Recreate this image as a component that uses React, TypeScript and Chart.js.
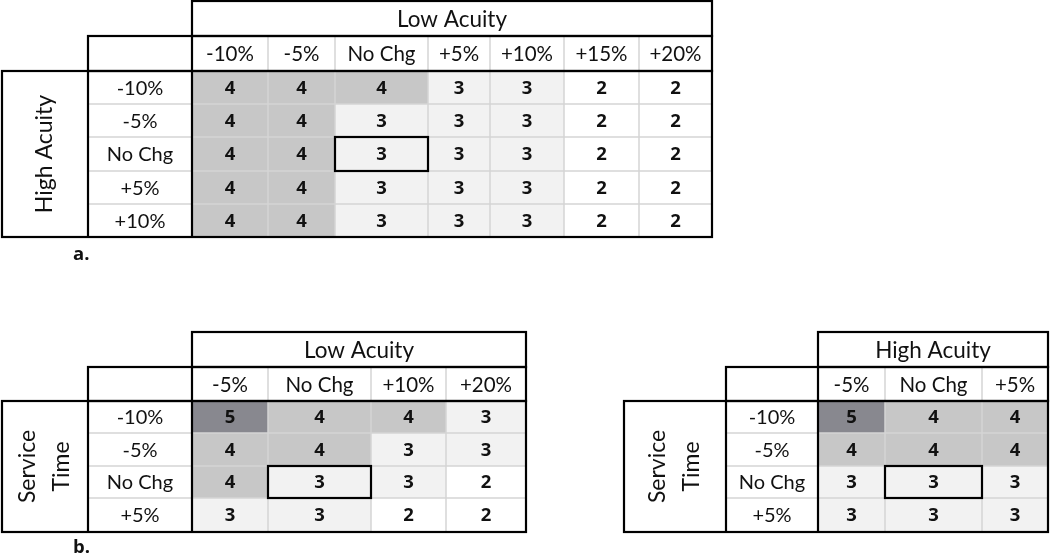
import React, { useEffect, useRef } from "react";
import { Chart, registerables } from "chart.js";

Chart.register(...registerables);

// ---------- data ----------
const lowAcuityColsA = ["-10%", "-5%", "No Chg", "+5%", "+10%", "+15%", "+20%"];
const highAcuityRowsA = ["-10%", "-5%", "No Chg", "+5%", "+10%"];
const valuesA = [
  [4, 4, 4, 3, 3, 2, 2],
  [4, 4, 3, 3, 3, 2, 2],
  [4, 4, 3, 3, 3, 2, 2],
  [4, 4, 3, 3, 3, 2, 2],
  [4, 4, 3, 3, 3, 2, 2],
];

const lowAcuityColsB = ["-5%", "No Chg", "+10%", "+20%"];
const serviceRowsB = ["-10%", "-5%", "No Chg", "+5%"];
const valuesBLow = [
  [5, 4, 4, 3],
  [4, 4, 3, 3],
  [4, 3, 3, 2],
  [3, 3, 2, 2],
];

const highAcuityColsB = ["-5%", "No Chg", "+5%"];
const valuesBHigh = [
  [5, 4, 4],
  [4, 4, 4],
  [3, 3, 3],
  [3, 3, 3],
];

// ---------- layout (pixel-unit scale space) ----------
const W = 1050;
const H = 557;

const geomA = {
  groupLeft: 2,
  labelLeft: 88,
  colEdges: [192, 268, 335, 428, 490, 564, 639, 712],
  top: 1,
  headBottom: 36,
  rowEdges: [71, 104, 137, 171, 204, 237],
};
const geomBL = {
  groupLeft: 2,
  labelLeft: 88,
  colEdges: [192, 268, 371, 446, 526],
  top: 332,
  headBottom: 367,
  rowEdges: [401, 433, 466, 498, 532],
};
const geomBR = {
  groupLeft: 624,
  labelLeft: 726,
  colEdges: [818, 885, 982, 1048],
  top: 332,
  headBottom: 367,
  rowEdges: [401, 433, 466, 498, 532],
};

const tables = [
  {
    title: "Low Acuity",
    side: ["High Acuity"],
    cols: lowAcuityColsA,
    rows: highAcuityRowsA,
    values: valuesA,
    base: [2, 2],
    geom: geomA,
  },
  {
    title: "Low Acuity",
    side: ["Service", "Time"],
    cols: lowAcuityColsB,
    rows: serviceRowsB,
    values: valuesBLow,
    base: [2, 1],
    geom: geomBL,
  },
  {
    title: "High Acuity",
    side: ["Service", "Time"],
    cols: highAcuityColsB,
    rows: serviceRowsB,
    values: valuesBHigh,
    base: [2, 1],
    geom: geomBR,
  },
];

const panelLabels = [
  { text: "a.", x: 73, y: 255 },
  { text: "b.", x: 73, y: 548 },
];

const shade: Record<number, string> = {
  2: "#ffffff",
  3: "#f2f2f2",
  4: "#c7c7c7",
  5: "#88888f",
};

const FONT = "Lato, 'Open Sans', sans-serif";
const BOLD = "'Open Sans', Lato, sans-serif";

const tablePlugin = {
  id: "tablePlugin",
  afterDraw(chart: any) {
    const ctx: CanvasRenderingContext2D = chart.ctx;
    const xs = chart.scales.x;
    const ys = chart.scales.y;
    const X = (v: number) => xs.getPixelForValue(v);
    const Y = (v: number) => ys.getPixelForValue(v);

    const line = (x1: number, y1: number, x2: number, y2: number) => {
      ctx.beginPath();
      ctx.moveTo(X(x1), Y(y1));
      ctx.lineTo(X(x2), Y(y2));
      ctx.stroke();
    };
    const rect = (x1: number, y1: number, x2: number, y2: number) => {
      ctx.strokeRect(X(x1), Y(y1), X(x2) - X(x1), Y(y2) - Y(y1));
    };

    ctx.save();
    ctx.fillStyle = "#ffffff";
    ctx.fillRect(0, 0, chart.width, chart.height);

    for (const t of tables) {
      const g = t.geom;
      const ce = g.colEdges;
      const re = g.rowEdges;
      const right = ce[ce.length - 1];
      const bottom = re[re.length - 1];

      // cell fills
      t.values.forEach((row, r) => {
        row.forEach((v, c) => {
          ctx.fillStyle = shade[v];
          ctx.fillRect(X(ce[c]), Y(re[r]), X(ce[c + 1]) - X(ce[c]), Y(re[r + 1]) - Y(re[r]));
        });
      });

      // light gridlines
      ctx.strokeStyle = "#d4d4d4";
      ctx.lineWidth = 1.5;
      for (let i = 1; i < ce.length - 1; i++) line(ce[i], g.headBottom, ce[i], bottom);
      for (let i = 1; i < re.length - 1; i++) line(g.labelLeft, re[i], right, re[i]);

      // heavy borders
      ctx.strokeStyle = "#000000";
      ctx.lineWidth = 2.2;
      rect(ce[0], g.top, right, g.headBottom);
      rect(g.labelLeft, g.headBottom, right, re[0]);
      rect(g.groupLeft, re[0], right, bottom);
      line(g.labelLeft, re[0], g.labelLeft, bottom);
      line(ce[0], g.headBottom, ce[0], bottom);
      const [br, bc] = t.base;
      rect(ce[bc], re[br], ce[bc + 1], re[br + 1]);

      // texts
      ctx.fillStyle = "#111111";
      ctx.textAlign = "center";
      ctx.textBaseline = "middle";
      ctx.font = `22.5px ${FONT}`;
      ctx.fillText(t.title, X((ce[0] + right) / 2), Y((g.top + g.headBottom) / 2) + 1);

      ctx.font = `20.5px ${FONT}`;
      t.cols.forEach((c, i) => {
        ctx.fillText(c, X((ce[i] + ce[i + 1]) / 2), Y((g.headBottom + re[0]) / 2) + 1);
      });
      ctx.font = `20px ${FONT}`;
      t.rows.forEach((rl, i) => {
        ctx.fillText(rl, X((g.labelLeft + ce[0]) / 2), Y((re[i] + re[i + 1]) / 2) + 1);
      });

      ctx.font = `bold 18.5px ${BOLD}`;
      t.values.forEach((row, r) => {
        row.forEach((v, c) => {
          ctx.fillText(String(v), X((ce[c] + ce[c + 1]) / 2), Y((re[r] + re[r + 1]) / 2) + 1);
        });
      });

      // rotated side title
      ctx.save();
      ctx.translate(X((g.groupLeft + g.labelLeft) / 2), Y((re[0] + bottom) / 2));
      ctx.rotate(-Math.PI / 2);
      ctx.font = `23px ${FONT}`;
      const n = t.side.length;
      const lh = 34;
      t.side.forEach((s, i) => {
        ctx.fillText(s, 0, (i - (n - 1) / 2) * lh);
      });
      ctx.restore();
    }

    ctx.fillStyle = "#111111";
    ctx.textAlign = "left";
    ctx.textBaseline = "middle";
    ctx.font = `bold 18.5px ${BOLD}`;
    for (const p of panelLabels) ctx.fillText(p.text, X(p.x), Y(p.y));

    ctx.restore();
  },
};

export default function App() {
  const ref = useRef<HTMLCanvasElement | null>(null);

  useEffect(() => {
    if (!ref.current) return;
    const chart = new Chart(ref.current, {
      type: "scatter",
      data: { datasets: [{ data: [], pointRadius: 0 }] },
      options: {
        animation: false,
        responsive: false,
        devicePixelRatio: 1,
        layout: { padding: 0 },
        plugins: { legend: { display: false }, tooltip: { enabled: false } },
        events: [],
        scales: {
          x: { type: "linear", min: 0, max: W, display: false },
          y: { type: "linear", min: 0, max: H, reverse: true, display: false },
        },
      },
      plugins: [tablePlugin],
    });
    return () => chart.destroy();
  }, []);

  return (
    <div style={{ position: "fixed", left: 0, top: 0, width: W, height: H, background: "#fff" }}>
      <canvas ref={ref} width={W} height={H} style={{ display: "block" }} />
    </div>
  );
}
